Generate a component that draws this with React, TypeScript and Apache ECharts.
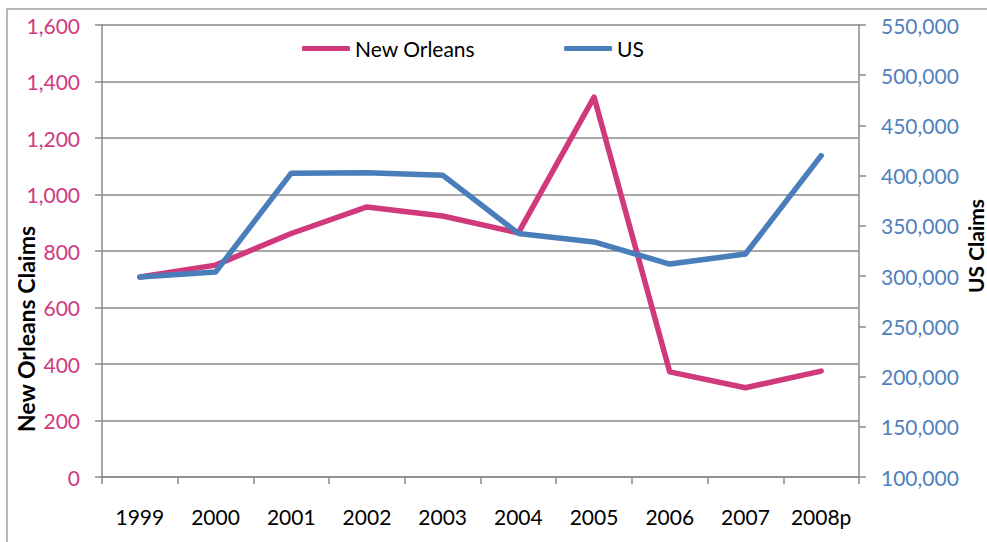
import React, { useEffect, useRef } from "react";
import * as echarts from "echarts";

const categories = ["1999", "2000", "2001", "2002", "2003", "2004", "2005", "2006", "2007", "2008p"];
const newOrleans = [708, 750, 862, 956, 924, 864, 1345, 372, 316, 375];
const usClaims = [299000, 304000, 402500, 403000, 400500, 342500, 334000, 312000, 322000, 420000];

const PINK = "#D0397C";
const BLUE = "#4A7EBB";
const BLUE_TXT = "#4F81BD";
const GRAY = "#8a8a8a";
const FONT = "Lato";

const fmt = (v: number) => v.toLocaleString("en-US");

export default function App() {
  const ref = useRef<HTMLDivElement>(null);
  useEffect(() => {
    if (!ref.current) return;
    const chart = echarts.init(ref.current, null, { renderer: "svg" });
    chart.setOption({
      animation: false,
      backgroundColor: "#ffffff",
      textStyle: { fontFamily: FONT },
      grid: { left: 102, right: 128, top: 25, bottom: 65, containLabel: false },
      legend: {
        left: 302,
        top: 38,
        padding: 0,
        itemWidth: 48,
        itemHeight: 5,
        itemGap: 89,
        icon: "roundRect",
        textStyle: { fontFamily: FONT, fontSize: 21, color: "#000" },
        data: ["New Orleans", "US"],
      },
      xAxis: {
        type: "category",
        data: categories,
        boundaryGap: true,
        axisLine: { show: true, lineStyle: { color: GRAY, width: 1.5 } },
        axisTick: { show: true, length: 7, alignWithLabel: false, lineStyle: { color: GRAY, width: 1.5 } },
        axisLabel: { fontFamily: FONT, fontSize: 21, color: "#000", margin: 29, interval: 0 },
        splitLine: { show: false },
      },
      yAxis: [
        {
          type: "value",
          min: 0,
          max: 1600,
          interval: 200,
          position: "left",
          axisLine: { show: true, lineStyle: { color: GRAY, width: 1.5 } },
          axisTick: { show: true, length: 7, lineStyle: { color: GRAY, width: 1.5 } },
          axisLabel: { fontFamily: FONT, fontSize: 21, color: PINK, margin: 22, formatter: fmt },
          splitLine: { show: true, lineStyle: { color: GRAY, width: 1.5 } },
        },
        {
          type: "value",
          min: 100000,
          max: 550000,
          interval: 50000,
          position: "right",
          axisLine: { show: true, lineStyle: { color: GRAY, width: 1.5 } },
          axisTick: { show: true, length: 7, lineStyle: { color: GRAY, width: 1.5 } },
          axisLabel: { fontFamily: FONT, fontSize: 21, color: BLUE_TXT, margin: 22, formatter: fmt },
          splitLine: { show: false },
        },
      ],
      series: [
        {
          name: "New Orleans",
          type: "line",
          yAxisIndex: 0,
          data: newOrleans,
          symbol: "none",
          color: PINK,
          lineStyle: { color: PINK, width: 5.5, cap: "round", join: "round" },
        },
        {
          name: "US",
          type: "line",
          yAxisIndex: 1,
          data: usClaims,
          symbol: "none",
          color: BLUE,
          lineStyle: { color: BLUE, width: 5.5, cap: "round", join: "round" },
        },
      ],
      graphic: [
        {
          type: "rect",
          silent: true,
          z: -10,
          shape: { x: 7, y: 9, width: 1200, height: 800 },
          style: { fill: "none", stroke: "#a0a0a0", lineWidth: 1.5 },
        },
        {
          type: "text",
          x: 26,
          y: 329,
          rotation: Math.PI / 2,
          style: {
            text: "New Orleans Claims",
            font: `bold 23px ${FONT}`,
            fill: "#000",
            align: "center",
            verticalAlign: "middle",
          },
        },
        {
          type: "text",
          x: 975,
          y: 246,
          rotation: Math.PI / 2,
          style: {
            text: "US Claims",
            font: `bold 21px ${FONT}`,
            fill: "#000",
            align: "center",
            verticalAlign: "middle",
          },
        },
      ],
    });
    return () => chart.dispose();
  }, []);
  return (
    <div
      ref={ref}
      style={{ position: "absolute", left: 0, top: 0, width: 987, height: 542 }}
    />
  );
}
